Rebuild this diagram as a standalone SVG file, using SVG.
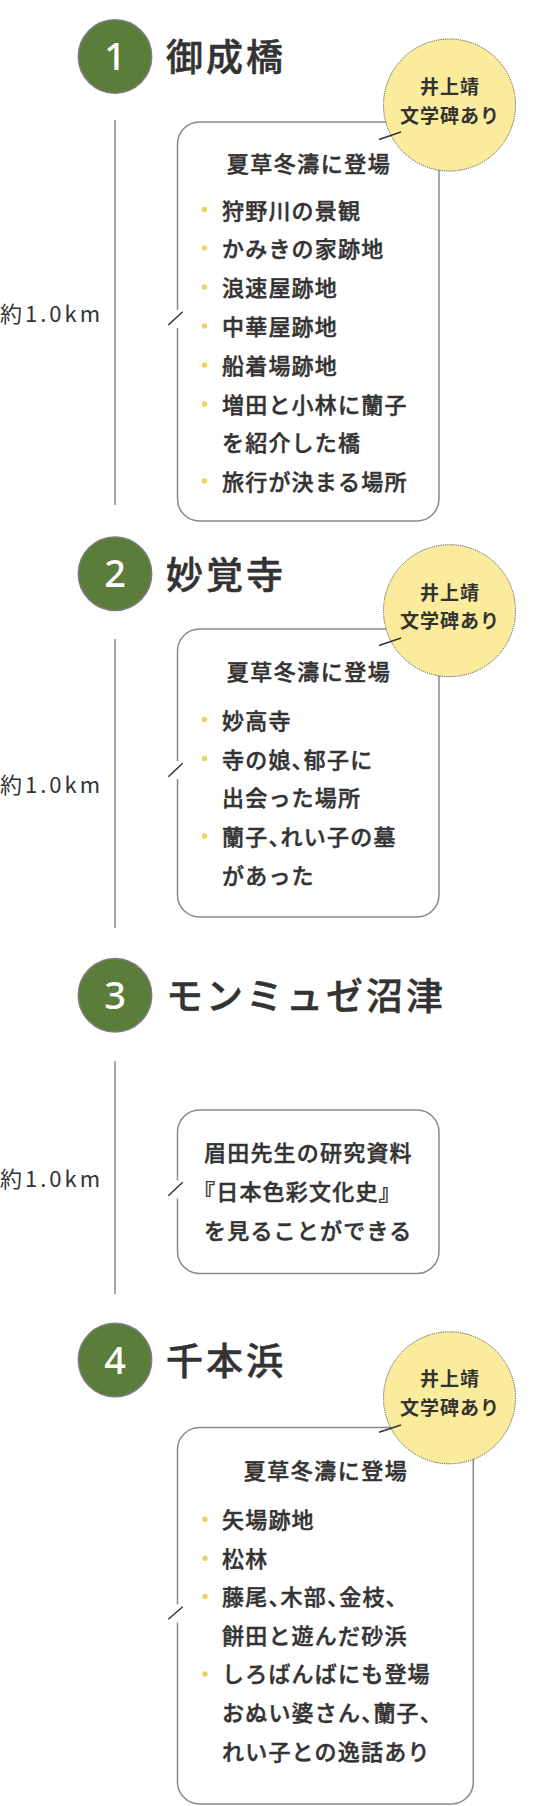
<svg xmlns="http://www.w3.org/2000/svg" width="550" height="1806" viewBox="0 0 550 1806">
<defs>
<style>
.num{fill:#5a7d3a;stroke:#7d7d7d;stroke-width:1.5}
.numt{font-family:"Noto Sans","Noto Sans CJK JP",sans-serif;font-size:38px;font-weight:500;fill:#fff;text-anchor:middle}
.ttl{font-family:"Noto Sans CJK JP",sans-serif;font-size:37px;font-weight:500;fill:#333;stroke:#333;stroke-width:0.5px;letter-spacing:3px}
.vline{stroke:#8a8a8a;stroke-width:1.5;fill:none}
.box{fill:#fff;stroke:#8a8a8a;stroke-width:1.5}
.notch{stroke:#333;stroke-width:1.5;fill:none}
.dist{font-family:"Noto Sans CJK JP",sans-serif;font-size:22px;font-weight:400;fill:#333;letter-spacing:3px}
.hd{font-family:"Noto Sans CJK JP",sans-serif;font-size:22px;font-weight:500;fill:#333;stroke:#333;stroke-width:0.45px;letter-spacing:1.5px;text-anchor:middle}
.t{font-family:"Noto Sans CJK JP",sans-serif;font-size:22px;font-weight:500;fill:#333;stroke:#333;stroke-width:0.45px;letter-spacing:1.2px;font-feature-settings:"halt" 1}
.dot{fill:#ebd25a}
.yc{fill:#faec9c;stroke:#555;stroke-width:1;stroke-dasharray:1.2 1}
.yt{font-family:"Noto Sans CJK JP",sans-serif;font-size:19px;font-weight:700;fill:#333;letter-spacing:1px;text-anchor:middle}
.lead{stroke:#333;stroke-width:1.5}
</style>
</defs>

<g id="connectors">
<line class="vline" x1="115" y1="120" x2="115" y2="505"/>
<line class="vline" x1="115" y1="639" x2="115" y2="928"/>
<line class="vline" x1="115" y1="1061" x2="115" y2="1294"/>
<text class="dist" x="0" y="321.5">約1.0km</text>
<text class="dist" x="0" y="792.7">約1.0km</text>
<text class="dist" x="0" y="1186.7">約1.0km</text>
</g>

<g id="stop1">
<circle class="num" cx="115" cy="56.5" r="36.7"/>
<text class="numt" x="115" y="70">1</text>
<text class="ttl" x="166" y="71">御成橋</text>
</g>

<g id="box1">
<path class="box" d="M177.5,328 V499 A22,22 0 0 0 199.5,521 H417 A22,22 0 0 0 439,499 V144 A22,22 0 0 0 417,122 H199.5 A22,22 0 0 0 177.5,144 V310"/>
<line class="notch" x1="168.3" y1="325" x2="182.7" y2="311.7"/>
<text class="hd" x="309" y="172">夏草冬濤に登場</text>
<circle class="dot" cx="204.5" cy="209.5" r="2.7"/>
<circle class="dot" cx="204.5" cy="248" r="2.7"/>
<circle class="dot" cx="204.5" cy="287" r="2.7"/>
<circle class="dot" cx="204.5" cy="326" r="2.7"/>
<circle class="dot" cx="204.5" cy="365" r="2.7"/>
<circle class="dot" cx="204.5" cy="404" r="2.7"/>
<circle class="dot" cx="204.5" cy="481" r="2.7"/>
<text class="t" x="222" y="218.5">狩野川の景観</text>
<text class="t" x="222" y="257">かみきの家跡地</text>
<text class="t" x="222" y="296">浪速屋跡地</text>
<text class="t" x="222" y="335">中華屋跡地</text>
<text class="t" x="222" y="374">船着場跡地</text>
<text class="t" x="222" y="413">増田と小林に蘭子</text>
<text class="t" x="222" y="451">を紹介した橋</text>
<text class="t" x="222" y="490">旅行が決まる場所</text>
</g>

<g id="badge1">
<circle class="yc" cx="449.5" cy="105" r="66"/>
<line class="lead" x1="379" y1="139.5" x2="401" y2="132"/>
<text class="yt" x="450" y="94">井上靖</text>
<text class="yt" x="450" y="122.5">文学碑あり</text>
</g>

<g id="stop2">
<circle class="num" cx="115" cy="573.7" r="36.7"/>
<text class="numt" x="115" y="587">2</text>
<text class="ttl" x="166" y="588.5">妙覚寺</text>
</g>

<g id="box2">
<path class="box" d="M177.5,779 V895 A22,22 0 0 0 199.5,917 H417 A22,22 0 0 0 439,895 V651 A22,22 0 0 0 417,629 H199.5 A22,22 0 0 0 177.5,651 V761"/>
<line class="notch" x1="168.3" y1="776.7" x2="182.7" y2="763.3"/>
<text class="hd" x="309" y="680">夏草冬濤に登場</text>
<circle class="dot" cx="204.5" cy="719.5" r="2.7"/>
<circle class="dot" cx="204.5" cy="758.5" r="2.7"/>
<circle class="dot" cx="204.5" cy="836" r="2.7"/>
<text class="t" x="222" y="728.5">妙高寺</text>
<text class="t" x="222" y="767.5">寺の娘、郁子に</text>
<text class="t" x="222" y="806">出会った場所</text>
<text class="t" x="222" y="845">蘭子、れい子の墓</text>
<text class="t" x="222" y="883.5">があった</text>
</g>

<g id="badge2">
<circle class="yc" cx="449.5" cy="610.7" r="66"/>
<line class="lead" x1="379" y1="645.5" x2="401" y2="638"/>
<text class="yt" x="450" y="599.7">井上靖</text>
<text class="yt" x="450" y="628.2">文学碑あり</text>
</g>

<g id="stop3">
<circle class="num" cx="115" cy="995.3" r="36.7"/>
<text class="numt" x="115" y="1008.8">3</text>
<text class="ttl" x="166" y="1010">モンミュゼ沼津</text>
</g>

<g id="box3">
<path class="box" d="M177.5,1198.5 V1251.5 A22,22 0 0 0 199.5,1273.5 H417 A22,22 0 0 0 439,1251.5 V1132 A22,22 0 0 0 417,1110 H199.5 A22,22 0 0 0 177.5,1132 V1180.5"/>
<line class="notch" x1="168.3" y1="1195.7" x2="182.7" y2="1182.3"/>
<text class="t" x="204" y="1161">眉田先生の研究資料</text>
<text class="t" x="204" y="1200">『日本色彩文化史』</text>
<text class="t" x="204" y="1238.5">を見ることができる</text>
</g>

<g id="stop4">
<circle class="num" cx="115" cy="1360" r="36.7"/>
<text class="numt" x="115" y="1373.5">4</text>
<text class="ttl" x="166" y="1375">千本浜</text>
</g>

<g id="box4">
<path class="box" d="M177.5,1622.5 V1782 A22,22 0 0 0 199.5,1804 H451.3 A22,22 0 0 0 473.3,1782 V1449.5 A22,22 0 0 0 451.3,1427.5 H199.5 A22,22 0 0 0 177.5,1449.5 V1604.5"/>
<line class="notch" x1="168.3" y1="1619.3" x2="182.7" y2="1606.7"/>
<text class="hd" x="326" y="1478.5">夏草冬濤に登場</text>
<circle class="dot" cx="205" cy="1519.3" r="2.7"/>
<circle class="dot" cx="205" cy="1558.3" r="2.7"/>
<circle class="dot" cx="205" cy="1596.5" r="2.7"/>
<circle class="dot" cx="205" cy="1674" r="2.7"/>
<text class="t" x="222" y="1528">矢場跡地</text>
<text class="t" x="222" y="1567">松林</text>
<text class="t" x="222" y="1605">藤尾、木部、金枝、</text>
<text class="t" x="222" y="1644">餅田と遊んだ砂浜</text>
<text class="t" x="222" y="1682">しろばんばにも登場</text>
<text class="t" x="222" y="1721">おぬい婆さん、蘭子、</text>
<text class="t" x="222" y="1760">れい子との逸話あり</text>
</g>

<g id="badge4">
<circle class="yc" cx="449.5" cy="1397.8" r="66"/>
<line class="lead" x1="379" y1="1432.3" x2="401" y2="1425"/>
<text class="yt" x="450" y="1386.3">井上靖</text>
<text class="yt" x="450" y="1415">文学碑あり</text>
</g>
</svg>
